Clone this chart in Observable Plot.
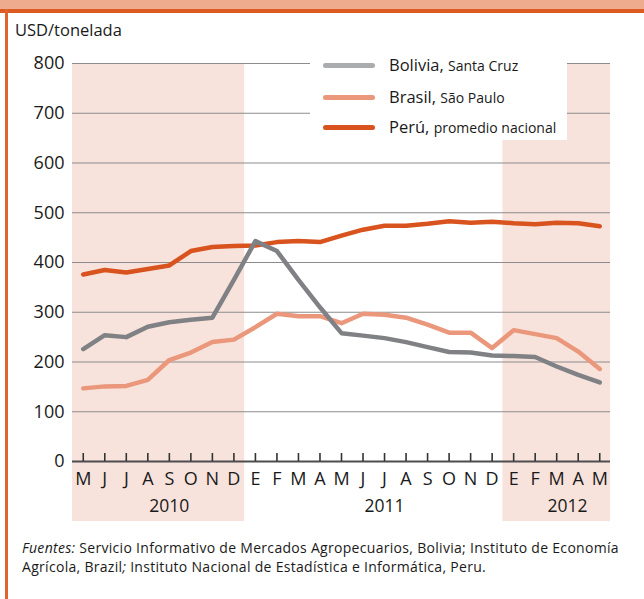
<!DOCTYPE html>
<html><head><meta charset="utf-8">
<script src="https://cdn.jsdelivr.net/npm/d3@7"></script>
<script src="https://cdn.jsdelivr.net/npm/@observablehq/plot@0.6"></script>
<style>
body{margin:0;background:#fff;font-family:"Open Sans",sans-serif;color:#1a1a1a;}
#wrap{position:relative;width:644px;height:599px;overflow:hidden;background:#fff;}
.topband{position:absolute;left:0;top:0;width:644px;height:9px;background:#efab8e;}
.stripe{position:absolute;left:0;top:9px;width:644px;height:4px;background:#dc5a22;}
.leftline{position:absolute;left:5px;top:9px;width:3px;height:600px;background:#e0622e;}
#unit{position:absolute;left:15px;top:18px;font-size:16.5px;}
#chart{position:absolute;left:0;top:40px;}
#legend{position:absolute;left:310px;top:44px;width:257px;height:96px;background:#fff;}
.item{position:absolute;left:0;height:20px;}
.sw{position:absolute;left:13px;width:52px;height:5px;border-radius:3px;}
.lab{position:absolute;left:79px;white-space:nowrap;font-size:16.5px;line-height:20px;}
.lab small{font-size:14px;}
#source{position:absolute;left:22px;top:538px;font-size:14px;letter-spacing:0.3px;line-height:19px;width:620px;white-space:nowrap;}
</style></head><body>
<div id="wrap">
 <div class="topband"></div><div class="stripe"></div><div class="leftline"></div>
 <div id="unit">USD/tonelada</div>
 <div id="chart"></div>
 <div id="legend"></div>
 <div id="source"><i>Fuentes:</i> Servicio Informativo de Mercados Agropecuarios, Bolivia; Instituto de Economía<br>Agrícola, Brazil<i>;</i> Instituto Nacional de Estadística e Informática, Peru.</div>
</div>
<script>
const months = ["M","J","J","A","S","O","N","D","E","F","M","A","M","J","J","A","S","O","N","D","E","F","M","A","M"];
const years = ["2010","2011","2012"];
const yearLabelMonth = [4, 14, 22.5];
const shadedMonths = [[0, 7], [20, 24]];
const yTicks = [0, 100, 200, 300, 400, 500, 600, 700, 800];

const seriesNames = ["Bolivia", "Brasil", "Perú"];
const seriesPlaces = ["Santa Cruz", "São Paulo", "promedio nacional"];
const bolivia = [226,254,250,271,280,285,289,365,443,423,365,310,258,253,248,240,230,220,219,213,212,210,191,174,159];
const brasil  = [147,151,152,164,204,219,240,245,270,297,292,292,278,297,295,289,275,259,259,228,264,256,248,221,186];
const peru    = [376,385,380,387,394,423,431,433,434,441,443,441,454,466,474,474,478,483,480,482,479,477,480,479,473];

const colors = {"Bolivia":"#808184","Brasil":"#ea977b","Perú":"#d8531d"};
const legendColors = {"Bolivia":"#abacae","Brasil":"#ea977b","Perú":"#d8531d"};

const rows = [];
[["Bolivia", bolivia], ["Brasil", brasil], ["Perú", peru]].forEach(([s, arr]) =>
  arr.forEach((v, i) => rows.push({s, i, v})));
const drawOrder = ["Brasil", "Perú", "Bolivia"];

const idx = d3.range(months.length);

const chart = Plot.plot({
  width: 644, height: 490,
  marginTop: 23, marginBottom: 69, marginLeft: 72, marginRight: 34,
  style: {fontFamily: "Open Sans", fontSize: "18px", color: "#1a1a1a", background: "transparent"},
  x: {domain: [-0.5, months.length - 0.5], axis: null},
  y: {domain: [0, 800], axis: null},
  marks: [
    Plot.rect(shadedMonths, {x1: d => d[0] - 0.5, x2: d => d[1] + 0.5, y1: 0, y2: 800, fill: "#f8e3dc", insetBottom: -60}),
    Plot.ruleY(yTicks.filter(d => d > 0), {stroke: "#8c8c8c", strokeWidth: 1.2}),
    Plot.ruleY([0], {stroke: "#4d4d4d", strokeWidth: 2.2}),
    Plot.ruleX(idx, {x: d => d, y1: 0, y2: 0, insetTop: -8, stroke: "#333", strokeWidth: 1.6}),
    Plot.axisY(yTicks, {tickSize: 0, tickPadding: 8, fontSize: 18, label: null}),
    Plot.axisX(idx, {tickSize: 0, tickPadding: 11, fontSize: 18, tickFormat: i => months[i], label: null}),
    Plot.text(years, {x: (d, i) => yearLabelMonth[i], frameAnchor: "bottom", dy: 50, text: d => d, fontSize: 17.5}),
    ...drawOrder.map(s => Plot.line(rows.filter(r => r.s === s), {x: "i", y: "v", stroke: colors[s], strokeWidth: 4.5, strokeLinejoin: "round", strokeLinecap: "round"}))
  ]
});
document.getElementById("chart").appendChild(chart);

const legend = document.getElementById("legend");
const rowTops = [11, 43, 73];
seriesNames.forEach((s, k) => {
  const it = document.createElement("div");
  it.className = "item";
  it.style.top = rowTops[k] + "px";
  it.innerHTML = `<div class="sw" style="top:8px;background:${legendColors[s]}"></div><div class="lab">${s}, <small>${seriesPlaces[k]}</small></div>`;
  legend.appendChild(it);
});
</script>
</body></html>
